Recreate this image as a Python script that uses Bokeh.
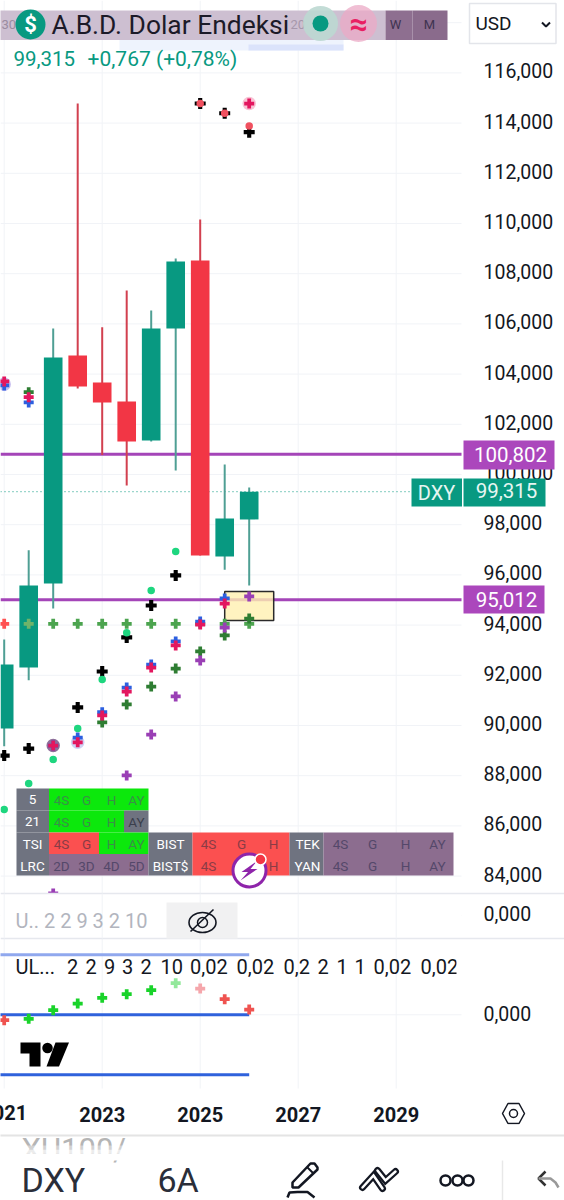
from bokeh.plotting import figure
from bokeh.embed import file_html
from bokeh.resources import INLINE
from bokeh.models import Range1d, LinearAxis, FixedTicker
from bokeh.core.properties import value

# ---- data ----
dates = [2021.0, 2021.5, 2022.0, 2022.5, 2023.0, 2023.5, 2024.0, 2024.5, 2025.0, 2025.5, 2026.0]
opens = [89.88, 92.31, 95.66, 104.74, 103.67, 102.91, 101.35, 105.82, 108.53, 96.73, 98.21]
highs = [93.43, 96.98, 105.82, 114.78, 105.87, 107.33, 106.53, 108.61, 110.16, 100.40, 99.48]
lows = [89.17, 91.80, 94.66, 103.43, 100.78, 99.56, 101.31, 100.16, 96.77, 96.21, 95.58]
closes = [92.43, 95.58, 104.66, 103.51, 102.87, 101.31, 105.82, 108.49, 96.77, 98.25, 99.315]

nan = float("nan")
black_plus = [88.80, 89.08, nan, 90.72, 92.15, 93.51, 94.78, 95.98, 114.78, 114.39, 113.64]
flat_plus = [94.05] * 11
dots = [86.65, 87.69, 88.65, 89.88, 91.83, 93.70, 95.38, 96.93, 114.78, 114.39, 113.88]
blue_plus = [103.55, 102.87, 89.20, 89.52, 90.53, 91.51, 92.43, 93.35, 94.14, 95.06, nan]
crimson_plus = [103.71, 103.08, 89.20, 89.33, 90.40, 91.35, 92.31, 93.19, 94.02, 94.86, 114.78]
dark_plus = [nan, 103.28, nan, nan, 90.12, 90.84, 91.55, 92.27, 92.95, 93.59, 94.26]
purple_plus = [nan, nan, 83.31, nan, nan, 88.01, 89.64, 91.16, 92.59, 93.90, 95.14]

halo_dates = [2021.0, 2022.0, 2022.5, 2026.0]
halo_vals = [103.6, 89.2, 89.33, 114.78]
halo_cols = ["#c9bff0", "#8e6f9a", "#cfd2f3", "#f8c3d4"]

levels = [100.802, 95.012]
close_price = 99.315
zone_left, zone_right, zone_top, zone_bottom = 2025.5, 2026.5, 95.34, 94.18

price_ticks = list(range(84, 118, 2))
price_labels = {t: f"{t},000" for t in price_ticks}
grid_prices = list(range(84, 120, 2))
grid_years = [2021, 2023, 2025, 2027, 2029]
year_ticks = [2023, 2025, 2027, 2029]

osc = [-0.000108, -0.00008, 0.000092, 0.000226, 0.00034, 0.000412, 0.000492, 0.000632, 0.000526, 0.000312, 0.000106]
osc_cols = ["#ef5350", "#19d32a", "#19d32a", "#19d32a", "#19d32a", "#19d32a", "#19d32a", "#93e89b", "#f5a6ab", "#ef5350", "#ef5350"]
band_dates = [2020.5, 2026.0]
band_up = [0.0012, 0.0012]
band_mid = [0.0, 0.0]
band_low = [-0.0012, -0.0012]

legend_tokens = ["UL...", "2", "2", "9", "3", "2", "10", "0,02", "0,02", "0,2", "2", "1", "1", "0,02", "0,02"]
legend_px = [15, 66.5, 85, 103.6, 121.6, 140, 160, 189.6, 236, 283, 317, 336, 354, 373, 420]

GREY, GREEN, RED, MAUVE = "#6f7380", "#0ce80c", "#fb5050", "#8c6d8f"
cell_x0 = [16, 48.5, 16, 48.5, 123.5, 16, 48.5, 98.5, 148, 192, 289, 323, 16, 48.5, 148, 192, 289, 323]
cell_x1 = [48.5, 148, 48.5, 123.5, 148, 48.5, 98.5, 148, 192, 289, 323, 453, 48.5, 148, 192, 289, 323, 453]
cell_y0 = [788] * 2 + [810] * 3 + [832] * 7 + [853.5] * 6
cell_y1 = [810] * 2 + [832] * 3 + [853.5] * 7 + [875] * 6
cell_c = [GREY, GREEN, GREY, GREEN, GREY, GREY, RED, GREEN, GREY, RED, GREY, MAUVE, GREY, MAUVE, GREY, RED, GREY, MAUVE]

white_txt = ["5", "21", "TSI", "LRC", "BIST", "BIST$", "TEK", "YAN"]
white_x = [32, 32, 32, 32, 170, 170, 307, 307]
white_y = [799, 821, 843, 865, 843, 865, 843, 865]
green_txt = ["4S", "G", "H", "AY", "4S", "G", "H", "H", "AY"]
green_x = [61, 86, 111, 136, 61, 86, 111, 111, 136]
green_y = [799, 799, 799, 799, 821, 821, 821, 843, 843]
red_txt = ["4S", "G", "4S", "G", "H", "4S", "G", "H"]
red_x = [61, 86, 208, 241, 273, 208, 241, 273]
red_y = [843, 843, 843, 843, 843, 865, 865, 865]
mauve_txt = ["2D", "3D", "4D", "5D", "4S", "G", "H", "AY", "4S", "G", "H", "AY", "AY"]
mauve_x = [61, 86, 111, 136, 340, 372, 405, 437, 340, 372, 405, 437, 136]
mauve_y = [865, 865, 865, 865, 843, 843, 843, 843, 865, 865, 865, 865, 821]
mauve_c = ["#54486a"] * 12 + ["#3b3f4c"]

# ---- figure: one canvas, the window pixel range is the "px" range ----
X0, X1, Y0, Y1 = 0, 564, 0, 1200
PX_YEAR, YEAR_X = 49.0, 199.7
PX_PRICE, PRICE_Y = 25.1, 72.4
PX_OSC = 0.00002
PRICE_START = 116 - (Y1 - PRICE_Y) / PX_PRICE
PRICE_END = 116 - (Y0 - PRICE_Y) / PX_PRICE

p = figure(width=564, height=1200, output_backend="svg", toolbar_location=None,
           x_range=Range1d(2025 + (X0 - YEAR_X) / PX_YEAR, 2025 + (X1 - YEAR_X) / PX_YEAR),
           y_range=Range1d(PRICE_START, PRICE_END),
           x_axis_location=None, y_axis_location=None, min_border=0, background_fill_color="#ffffff",
           border_fill_color="#ffffff")
p.outline_line_color = None
p.grid.visible = False
p.extra_x_ranges = {"px": Range1d(X0, X1)}
p.extra_y_ranges = {
    "px": Range1d(Y1, Y0),
    "osc": Range1d((1014.3 - Y1) * PX_OSC, (1014.3 - Y0) * PX_OSC),
    "lab": Range1d(PRICE_START - 0.076, PRICE_END - 0.076),
    "osc_lab": Range1d((1013 - Y1) * PX_OSC, (1013 - Y0) * PX_OSC),
    "osc2_lab": Range1d((913 - Y1) * PX_OSC, (913 - Y0) * PX_OSC),
}
PX = dict(x_range_name="px", y_range_name="px")
FONT = value("Roboto")


def T(x, y, text, size, color, align="left", style="normal", level="overlay", **kw):
    xs = x if isinstance(x, list) else [x]
    ys = y if isinstance(y, list) else [y] * len(xs)
    ts = text if isinstance(text, list) else [text] * len(xs)
    p.text(x=xs, y=ys, text=ts, text_font=FONT, text_font_size=f"{size}px", text_color=color,
           text_align=align, text_baseline="middle", text_font_style=style, level=level, **PX, **kw)


def Q(x0, x1, y0, y1, color, alpha=1.0, level="overlay", **kw):
    p.quad(left=[x0], right=[x1], top=[y0], bottom=[y1], fill_color=color, fill_alpha=alpha,
           line_color=kw.pop("line_color", None), level=level, **PX, **kw)


GRID = "#f1f3f7"
# grid
p.segment(x0=[X0] * len(grid_prices), x1=[461] * len(grid_prices), y0=grid_prices, y1=grid_prices,
          line_color=GRID, line_width=1, x_range_name="px")
p.segment(x0=grid_years, x1=grid_years, y0=[Y0] * 5, y1=[1088] * 5, line_color=GRID, line_width=1, y_range_name="px")
p.segment(x0=[X0, X0], x1=[461, 461], y0=[915, 1014.3], y1=[915, 1014.3], line_color=GRID, line_width=1, **PX)

# horizontal levels and close line
p.segment(x0=[X0, X0], x1=[461, 461], y0=levels, y1=levels, line_color="#a445b8", line_width=3, x_range_name="px")
p.segment(x0=[X0], x1=[411], y0=[close_price], y1=[close_price], line_color="#089981", line_width=1,
          line_dash="1 3", x_range_name="px")

# candles
wick_up, wick_dn = "#4f9f94", "#d2404f"
wick_cols = [wick_up if c >= o else wick_dn for o, c in zip(opens, closes)]
body_cols = ["#089981" if c >= o else "#f23645" for o, c in zip(opens, closes)]
p.segment(x0=dates, x1=dates, y0=lows, y1=highs, line_color=wick_cols, line_width=2)
p.vbar(x=dates, width=0.38, top=[max(o, c) for o, c in zip(opens, closes)],
       bottom=[min(o, c) for o, c in zip(opens, closes)], fill_color=body_cols, line_color=None)

# zone
p.quad(left=[zone_left], right=[zone_right], top=[zone_top], bottom=[zone_bottom], fill_color="#fff0b0",
       fill_alpha=0.8, line_color="#2a2a2a", line_width=1.5)

# indicator markers
p.scatter(x=halo_dates, y=halo_vals, size=13.5, marker="circle", fill_color=halo_cols, line_color=None)
flat_cols = ["#ff5252", "#6fb36a"] + ["#4ca44f"] * 9
p.scatter(x=dates, y=flat_plus, size=10, marker="plus", fill_color=flat_cols, line_color=None)
p.scatter(x=dates, y=black_plus, size=11, marker="plus", fill_color="#000000", line_color=None)
dot_cols = ["#1ed67f"] * 8 + ["#f0505f"] * 3
p.scatter(x=dates, y=dots, size=7.5, marker="circle", fill_color=dot_cols, line_color=None)
p.scatter(x=dates, y=dark_plus, size=10, marker="plus", fill_color="#2e7d32", line_color=None)
p.scatter(x=dates, y=blue_plus, size=10, marker="plus", fill_color="#2c5fe0", line_color=None)
p.scatter(x=dates, y=crimson_plus, size=10, marker="plus", fill_color="#e3175f", line_color=None)
p.scatter(x=dates, y=purple_plus, size=10, marker="plus", fill_color="#9a3fb5", line_color=None)

# pane covers and separators
Q(X0, 461, 893, 938, "#ffffff", level="glyph")
p.segment(x0=[X0, X0], x1=[X1, X1], y0=[893, 938], y1=[893, 938], line_color="#e6e8ee", line_width=1.5, level="glyph", **PX)
p.segment(x0=grid_years, x1=grid_years, y0=[893] * 5, y1=[938] * 5, line_color=GRID, line_width=1, y_range_name="px")

# oscillator pane
p.line(x=band_dates, y=band_up, line_color="#90a8ee", line_width=3, y_range_name="osc")
p.line(x=band_dates, y=band_mid, line_color="#2f62dc", line_width=3, y_range_name="osc")
p.line(x=band_dates, y=band_low, line_color="#2f62dc", line_width=3, y_range_name="osc")
p.scatter(x=dates, y=osc, size=10, marker="plus", fill_color=osc_cols, line_color=None, y_range_name="osc")

# axes
price_axis = LinearAxis(ticker=FixedTicker(ticks=price_ticks), major_label_overrides=price_labels,
                        fixed_location=461, x_range_name="px", y_range_name="lab")
osc2_axis = LinearAxis(ticker=FixedTicker(ticks=[0]), major_label_overrides={0: "0,000"},
                       fixed_location=461, x_range_name="px", y_range_name="osc2_lab")
osc_axis = LinearAxis(ticker=FixedTicker(ticks=[0]), major_label_overrides={0: "0,000"},
                      fixed_location=461, x_range_name="px", y_range_name="osc_lab")
for a in (price_axis, osc2_axis, osc_axis):
    a.axis_line_color = None
    a.major_tick_line_color = None
    a.minor_tick_line_color = None
    a.major_label_standoff = 16
    a.major_label_text_font = "Roboto"
    a.major_label_text_font_size = "19.5px"
    a.major_label_text_color = "#131722"
    p.add_layout(a, "right")

year_axis = LinearAxis(ticker=FixedTicker(ticks=year_ticks), major_label_overrides={y: str(y) for y in year_ticks},
                       fixed_location=1088, y_range_name="px")
year_axis.axis_line_color = None
year_axis.major_tick_line_color = None
year_axis.minor_tick_line_color = None
year_axis.major_label_standoff = 12
year_axis.major_label_text_font = "Roboto"
year_axis.major_label_text_font_size = "20px"
year_axis.major_label_text_font_style = "bold"
year_axis.major_label_text_color = "#131722"
p.add_layout(year_axis, "below")
p.text(x=[2021], y=[1112], text=["2021"], text_font=FONT, text_font_size="20px", text_font_style="bold",
       text_color="#131722", text_align="center", text_baseline="middle", y_range_name="px", level="overlay")

# title band
p.scatter(x=[140], y=[37], size=12, marker="plus", fill_color="#c9c47a", line_color=None, level="overlay", **PX)
Q(119, 343, 39, 50, "#eef3fd")
Q(248, 343, 44, 50, "#dbe3fb")
Q(X0, 385, 10, 39.5, "#cdbfd1")
Q(385, 412, 10, 39.5, "#8e6f90")
Q(412, 447, 10, 39.5, "#8a6b8c")
T(1, 24, "30", 13, "#9a8ca0")
T(290, 24, "20", 13, "#a697ab")
T(395, 24, "W", 13, "#3e3350", "center")
T(429, 24, "M", 13, "#3e3350", "center")
p.scatter(x=[320], y=[23], size=35, marker="circle", fill_color="#bcd8d2", fill_alpha=0.9, line_color=None, level="overlay", **PX)
p.scatter(x=[320], y=[23], size=16, marker="circle", fill_color="#089981", line_color=None, level="overlay", **PX)
p.scatter(x=[358], y=[23], size=37, marker="circle", fill_color="#eba9c6", fill_alpha=0.75, line_color=None, level="overlay", **PX)
T(358, 23, "\u2248", 32, "#e91e63", "center", "bold")
p.scatter(x=[30], y=[24], size=30, marker="circle", fill_color="#089981", line_color=None, level="overlay", **PX)
T(30, 24, "$", 22, "#ffffff", "center", "bold")
T(51, 24, "A.B.D. Dolar Endeksi", 26.4, "#1c1a28")
T(13, 58, "99,315", 20.5, "#089981")
T(87, 58, "+0,767 (+0,78%)", 21, "#089981")

# currency box
p.quad(left=[469], right=[555.5], top=[3], bottom=[43], fill_color="#ffffff", line_color="#e3e5ea", line_width=1.5, level="overlay", **PX)
T(475, 23, "USD", 19, "#131722")
p.line(x=[541.5, 545.5, 549.5], y=[22, 26, 22], line_color="#131722", line_width=2, level="overlay", **PX)

# price labels
Q(463, 554, 440, 469, "#ab47bc")
T(510, 454, "100,802", 20.5, "#ffffff", "center")
Q(411, 461.5, 478, 506, "#089981")
Q(463, 545, 478, 506, "#089981")
T(436, 492, "DXY", 20, "#e6f6f2", "center")
T(506, 490, "99,315", 20.5, "#e6f6f2", "center")
Q(463, 544, 585, 613, "#ab47bc")
T(506, 599, "95,012", 20.5, "#ffffff", "center")

# status table
p.quad(left=cell_x0, right=cell_x1, top=cell_y0, bottom=cell_y1, fill_color=cell_c, line_color=None, level="overlay", **PX)
T(white_x, white_y, white_txt, 13.5, "#ffffff", "center")
T(green_x, green_y, green_txt, 13.5, "#3a8f48", "center")
T(red_x, red_y, red_txt, 13.5, "#8a3c46", "center")
p.text(x=mauve_x, y=mauve_y, text=mauve_txt, text_font=FONT, text_font_size="13.5px", text_color=mauve_c,
       text_align="center", text_baseline="middle", level="overlay", **PX)

# bolt badge
p.scatter(x=[249], y=[870], size=33, marker="circle", fill_color="#ffffff", line_color="#8e24aa", line_width=3, level="overlay", **PX)
p.patch(x=[256, 241, 247.5, 240, 257, 250], y=[861, 871.5, 871.5, 880, 868.5, 868.5], fill_color="#8e24aa", line_color=None, level="overlay", **PX)
p.scatter(x=[260], y=[859], size=11, marker="circle", fill_color="#f23645", line_color="#ffffff", line_width=1.5, level="overlay", **PX)

# pane legends
T(15, 920, "U.. 2 2 9 3 2 10", 20, "#b2b5be")
Q(166, 237, 902, 938, "#f1f1f2")
p.ellipse(x=[202], y=[922], width=27, height=20, fill_color=None, line_color="#131722", line_width=1.6, level="overlay", **PX)
p.scatter(x=[202], y=[922], size=10, marker="circle", fill_color=None, line_color="#131722", line_width=1.5, level="overlay", **PX)
p.segment(x0=[190], x1=[213], y0=[931], y1=[909], line_color="#131722", line_width=1.6, level="overlay", **PX)
T(legend_px, 966, legend_tokens, 20, "#131722")
Q(456, 468, 955, 978, "#ffffff")

# watermark logo
p.patch(x=[20, 40, 40, 29, 29, 20], y=[1042, 1042, 1066, 1066, 1053, 1053], fill_color="#000000", line_color=None, level="overlay", **PX)
p.scatter(x=[47], y=[1047.5], size=10.5, marker="circle", fill_color="#000000", line_color=None, level="overlay", **PX)
p.patch(x=[55, 68.5, 58.5, 46], y=[1042, 1042, 1066, 1066], fill_color="#000000", line_color=None, level="overlay", **PX)

# settings hexagon
p.patch(x=[502, 507.5, 518.5, 524, 518.5, 507.5], y=[1113, 1103, 1103, 1113, 1123, 1123], fill_color=None,
        line_color="#131722", line_width=1.5, level="overlay", **PX)
p.scatter(x=[513], y=[1113], size=8, marker="circle", fill_color=None, line_color="#131722", line_width=1.5, level="overlay", **PX)

# bottom tool bar
T(21, 1149, "XU100/", 31, "#b5b5b5")
Q(X0, X1, 1124, 1135, "#ffffff")
p.segment(x0=[X0], x1=[X1], y0=[1135], y1=[1135], line_color="#e4e4e4", line_width=2, level="overlay", **PX)
Q(X0, 470, 1145, 1149, "#ffffff", 0.4)
Q(X0, 470, 1149, 1153, "#ffffff", 0.75)
Q(X0, 470, 1153, 1160, "#ffffff")
T(21, 1179, "DXY", 34, "#2a2e39")
T(157, 1179, "6A", 34, "#2a2e39")
p.patch(x=[292, 310, 314, 317, 317, 298, 292], y=[1182, 1163, 1163, 1167, 1169, 1187, 1187], fill_color=None,
        line_color="#131722", line_width=2.5, level="overlay", **PX)
p.segment(x0=[307], x1=[313], y0=[1167], y1=[1173], line_color="#131722", line_width=2, level="overlay", **PX)
p.line(x=[287, 289, 297, 307, 314], y=[1197, 1192, 1191.5, 1191.5, 1197], line_color="#131722", line_width=2.5, level="overlay", **PX)
for lw, col in ((7, "#131722"), (2.5, "#ffffff")):
    p.line(x=[362, 373, 382], y=[1187, 1175, 1188], line_color=col, line_width=lw, line_cap="round", line_join="miter", level="overlay", **PX)
    p.line(x=[377, 385, 395], y=[1170, 1180, 1171], line_color=col, line_width=lw, line_cap="round", line_join="miter", level="overlay", **PX)
p.scatter(x=[445, 457, 468], y=[1180] * 3, size=10, marker="circle", fill_color=None, line_color="#131722", line_width=2.5, level="overlay", **PX)
p.segment(x0=[502], x1=[502], y0=[1160], y1=[1200], line_color="#e8e8e8", line_width=1.5, level="overlay", **PX)
p.line(x=[545, 538, 545], y=[1171, 1178, 1185], line_color="#333333", line_width=2.5, level="overlay", **PX)
p.line(x=[538, 550, 555, 558], y=[1178, 1178, 1182, 1187], line_color="#999999", line_width=2.5, level="overlay", **PX)

open("out.html", "w").write(file_html(p, INLINE))
